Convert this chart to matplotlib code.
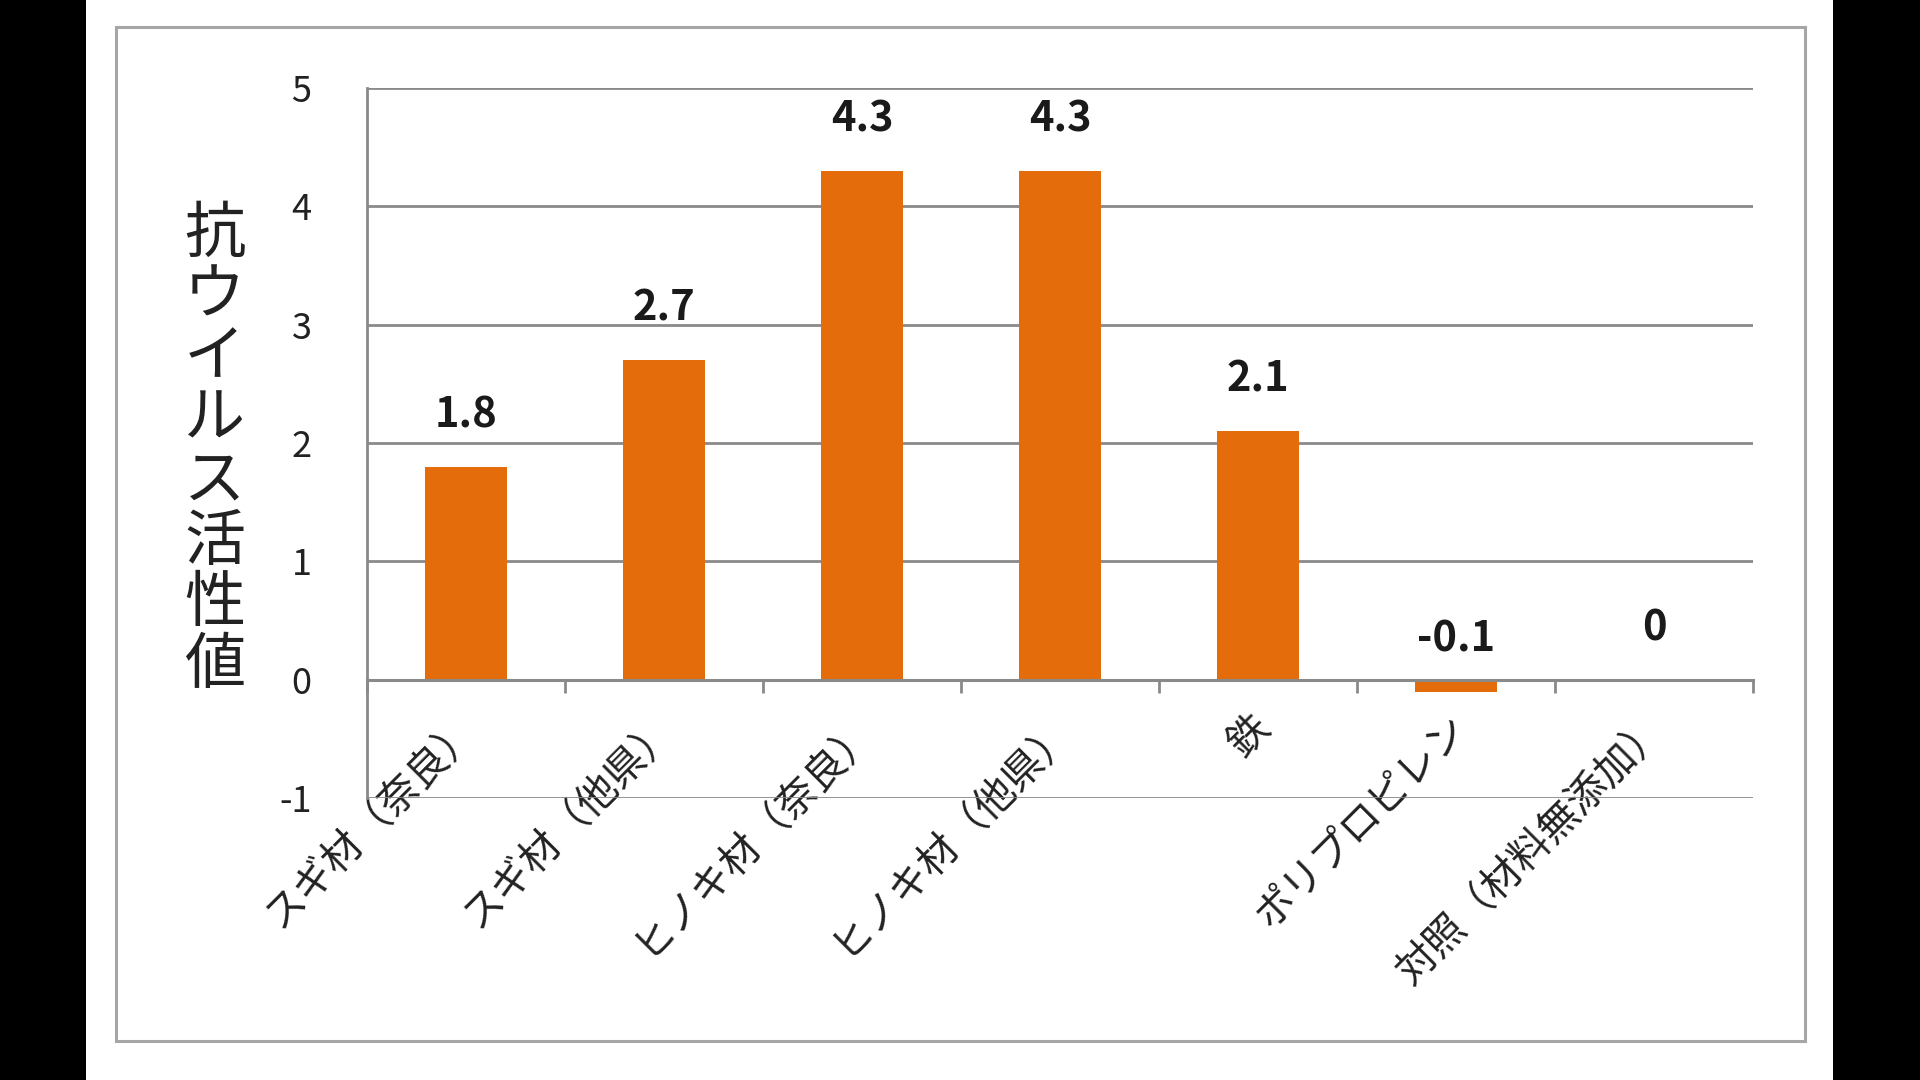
import numpy as np
import matplotlib.pyplot as plt
import matplotlib.transforms as mtransforms
from matplotlib.patches import Rectangle

plt.rcParams['font.family'] = ['Noto Sans CJK JP', 'DejaVu Sans']

# data
categories = ['スギ材（奈良）', 'スギ材（他県）', 'ヒノキ材（奈良）', 'ヒノキ材（他県）',
              '鉄', 'ポリプロピレン', '対照（材料無添加）']
values = [1.8, 2.7, 4.3, 4.3, 2.1, -0.1, 0]
value_labels = ['1.8', '2.7', '4.3', '4.3', '2.1', '-0.1', '0']
y_ticks = [-1, 0, 1, 2, 3, 4, 5]
y_label = '抗ウイルス活性値'

bar_color = '#E46C0A'
grid_color = '#8a8a8a'

fig = plt.figure(figsize=(19.2, 10.8), dpi=100, facecolor='black')

# white page between the black side bands, and the chart border
fig.patches.append(Rectangle((86 / 1920, 0), (1833 - 86) / 1920, 1,
                             transform=fig.transFigure, facecolor='white',
                             edgecolor='none', zorder=-2))
fig.patches.append(Rectangle((116 / 1920, 39 / 1080), (1805 - 116) / 1920, (1041 - 27) / 1080,
                             transform=fig.transFigure, facecolor='none',
                             edgecolor='#a6a6a6', linewidth=2.2, zorder=-1))

ax = fig.add_axes([367 / 1920, 282 / 1080, (1753 - 367) / 1920, (798 - 88) / 1080])
ax.set_facecolor('white')

x = np.arange(len(categories))
ax.bar(x, values, width=0.41, color=bar_color, zorder=3)

for xi, v, lab in zip(x, values, value_labels):
    ax.annotate(lab, (xi, v), xytext=(0, 22), textcoords='offset points',
                ha='center', va='bottom', fontsize=30, fontweight='bold',
                color='#1a1a1a', zorder=4)

ax.set_xlim(-0.5, len(categories) - 0.5)
ax.set_ylim(-1, 5)
ax.set_yticks(y_ticks)
ax.set_yticklabels([str(t) for t in y_ticks], fontsize=26, color='#222222')
ax.tick_params(axis='y', length=0, pad=40)
ax.yaxis.grid(True, color=grid_color, linewidth=2.0, zorder=1)
ax.set_axisbelow(True)

ax.spines['top'].set_visible(False)
ax.spines['right'].set_visible(False)
ax.spines['left'].set_color(grid_color)
ax.spines['left'].set_linewidth(2.0)
ax.spines['bottom'].set_position(('data', 0))
ax.spines['bottom'].set_color(grid_color)
ax.spines['bottom'].set_linewidth(2.2)
ax.spines['bottom'].set_zorder(5)

ax.set_xticks(x)
ax.set_xticklabels(categories, fontsize=29, color='#222222')
ax.set_xticks(np.arange(len(categories) + 1) - 0.5, minor=True)
ax.tick_params(axis='x', which='major', length=0, pad=20)
ax.tick_params(axis='x', which='minor', length=9, width=2, color=grid_color, direction='out')

offset = mtransforms.ScaledTranslation(-0.09, 0, fig.dpi_scale_trans)
for lbl in ax.get_xticklabels():
    lbl.set_rotation(45)
    lbl.set_ha('right')
    lbl.set_va('top')
    lbl.set_rotation_mode('anchor')
    lbl.set_transform(lbl.get_transform() + offset)

ax.set_ylabel('\n'.join(y_label), rotation=0, fontsize=44, color='#222222',
              va='center', ha='center', linespacing=0.98)
ax.yaxis.set_label_coords(-0.110, 0.49)

fig.savefig('out.png', dpi=100, facecolor=fig.get_facecolor())
